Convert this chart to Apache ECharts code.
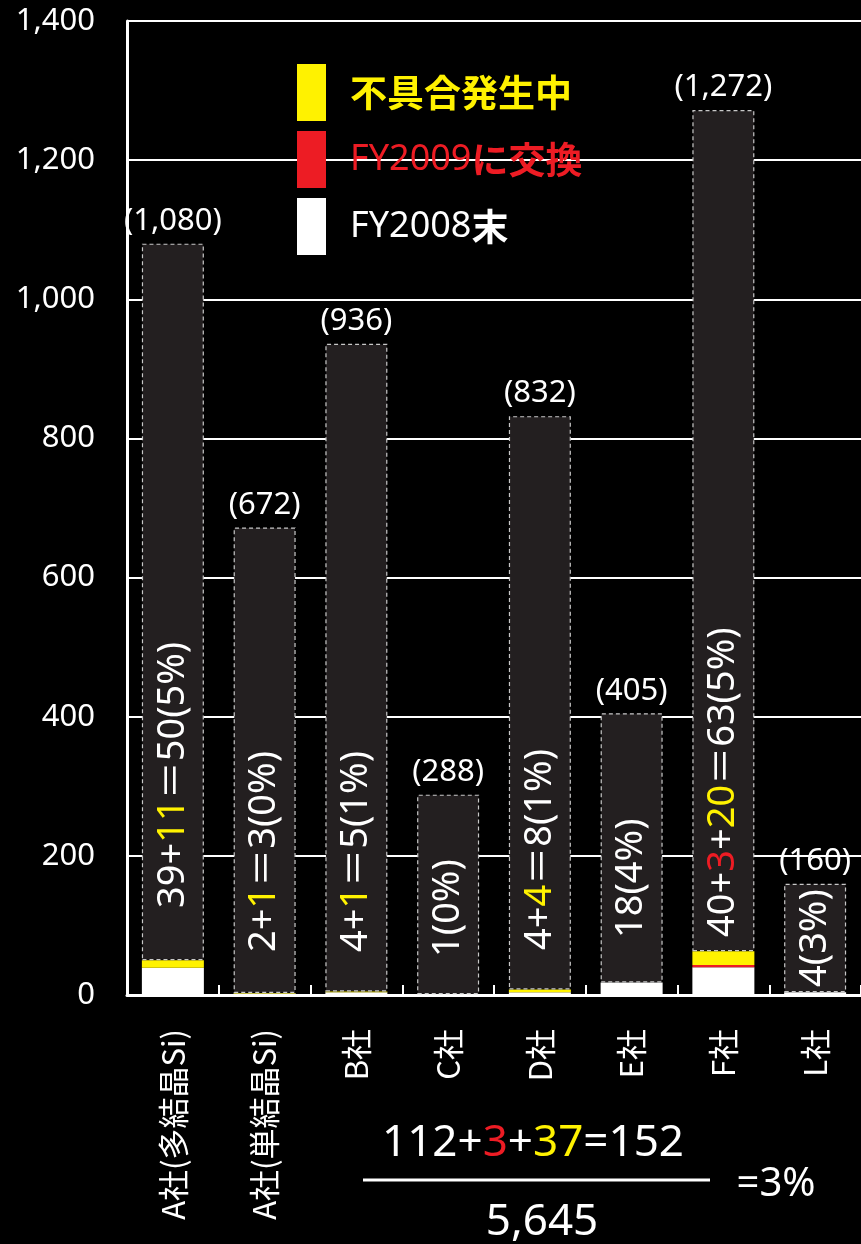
<!DOCTYPE html>
<html>
<head>
<meta charset="utf-8">
<script src="https://cdn.jsdelivr.net/npm/echarts@6/dist/echarts.min.js"></script>
<style>
  html, body { margin: 0; padding: 0; background: #000; }
  #chart { width: 861px; height: 1244px; }
</style>
</head>
<body>
<div id="chart"></div>
<script>
// Module counts per maker
const categories = ['A社(多結晶Si)', 'A社(単結晶Si)', 'B社', 'C社', 'D社', 'E社', 'F社', 'L社'];
const totals     = [1080, 672, 936, 288, 832, 405, 1272, 160];
const endFY2008  = [39, 2, 4, 1, 4, 18, 40, 4];   // FY2008末
const replaced   = [0, 0, 0, 0, 0, 0, 3, 0];      // FY2009に交換
const faulty     = [11, 1, 1, 0, 4, 0, 20, 0];    // 不具合発生中
const yTicks = { min: 0, max: 1400, step: 200 };

// Layout: how far (px) above the axis each in-bar caption starts
const captionLift = [87, 43, 43, 38, 45, 57, 58, 8];

const C_WHITE = '#ffffff', C_RED = '#ed1c24', C_YELLOW = '#fff200', C_BAR = '#231f20';
const LATIN = '"Noto Sans", "Noto Sans CJK JP", sans-serif';
const CJK = '"Noto Sans CJK JP", "Noto Sans", sans-serif';

const fmt = v => v.toLocaleString('en-US');
const issueSum = i => endFY2008[i] + replaced[i] + faulty[i];
const rest = totals.map((t, i) => t - issueSum(i));

const chart = echarts.init(document.getElementById('chart'));

function legendText(name) {
  const color = { '不具合発生中': 'y', 'FY2009に交換': 'r', 'FY2008末': 'w' }[name];
  const m = name.match(/^([A-Za-z0-9]*)(.*)$/);
  let s = '{gap|}';
  if (m[1]) s += '{' + color + 'n|' + m[1] + '}';
  if (m[2]) s += '{' + color + 'b|' + m[2] + '}';
  return s;
}

const legendRich = { gap: { width: 19 } };
[['y', C_YELLOW], ['r', C_RED], ['w', C_WHITE]].forEach(([k, c]) => {
  legendRich[k + 'n'] = { color: c, fontSize: 36, fontFamily: LATIN, fontWeight: 'normal' };
  legendRich[k + 'b'] = { color: c, fontSize: 37, fontFamily: CJK, fontWeight: 'bold' };
});

const option = {
  backgroundColor: '#000',
  animation: false,
  grid: { left: 127, right: 0, top: 21, bottom: 249, containLabel: false, outerBoundsMode: 'none' },
  legend: {
    show: true,
    orient: 'vertical',
    left: 297,
    top: 64,
    padding: 0,
    itemWidth: 29,
    itemHeight: 57,
    itemGap: 10,
    icon: 'rect',
    selectedMode: false,
    data: ['不具合発生中', 'FY2009に交換', 'FY2008末'],
    formatter: legendText,
    textStyle: { rich: legendRich }
  },
  xAxis: {
    type: 'category',
    data: categories,
    axisLine: { show: true, lineStyle: { color: '#fff', width: 3 } },
    axisTick: { show: true, inside: true, length: 10, lineStyle: { color: '#fff', width: 2 } },
    axisLabel: {
      rotate: 90,
      color: '#fff',
      fontSize: 31,
      fontFamily: CJK,
      margin: 34,
      interval: 0
    },
    splitLine: { show: false }
  },
  yAxis: {
    type: 'value',
    min: yTicks.min,
    max: yTicks.max,
    interval: yTicks.step,
    axisLine: { show: true, lineStyle: { color: '#fff', width: 3 } },
    axisTick: { show: false },
    axisLabel: {
      color: '#fff',
      fontSize: 31,
      fontFamily: LATIN,
      margin: 32,
      formatter: v => fmt(v)
    },
    splitLine: { show: true, lineStyle: { color: '#fff', width: 2 } }
  },
  series: [
    {
      name: 'FY2008末', type: 'bar', stack: 'all', barWidth: 62,
      itemStyle: { color: C_WHITE }, data: endFY2008
    },
    {
      name: 'FY2009に交換', type: 'bar', stack: 'all', barWidth: 62,
      itemStyle: { color: C_RED }, data: replaced
    },
    {
      name: '不具合発生中', type: 'bar', stack: 'all', barWidth: 62,
      itemStyle: { color: C_YELLOW }, data: faulty
    },
    {
      name: '累計', type: 'bar', stack: 'all', barWidth: 62,
      itemStyle: { color: C_BAR, borderColor: '#c8c8c8', borderWidth: 1.2, borderType: [4, 3] },
      label: {
        show: true,
        position: 'top',
        distance: 7,
        color: '#fff',
        fontSize: 31,
        fontFamily: LATIN,
        formatter: p => '(' + fmt(totals[p.dataIndex]) + ')'
      },
      data: rest
    }
  ]
};

chart.setOption(option);

// In-bar captions: counts, their sum and the share of the bar total
function caption(i) {
  const parts = [{ v: endFY2008[i], k: 'w' }];
  if (replaced[i] > 0) parts.push({ v: replaced[i], k: 'r' });
  if (faulty[i] > 0) parts.push({ v: faulty[i], k: 'y' });
  const pct = Math.round(issueSum(i) / totals[i] * 100);
  let s = parts.map(p => '{' + p.k + '|' + p.v + '}').join('{w|+}');
  if (parts.length > 1) s += '{w|＝' + issueSum(i) + '}';
  s += '{w|(' + pct + '%)}';
  return s;
}

function richSet(size) {
  return {
    w: { fill: C_WHITE, fontSize: size, fontFamily: LATIN },
    r: { fill: C_RED, fontSize: size, fontFamily: LATIN },
    y: { fill: C_YELLOW, fontSize: size, fontFamily: LATIN }
  };
}

const graphics = [];
const y0 = chart.convertToPixel({ yAxisIndex: 0 }, 0);
categories.forEach((c, i) => {
  const x = chart.convertToPixel({ xAxisIndex: 0 }, c);
  graphics.push({
    type: 'text',
    x: x, y: y0 - captionLift[i],
    rotation: Math.PI / 2,
    z: 100,
    style: { text: caption(i), rich: richSet(38), fill: '#fff', align: 'left', verticalAlign: 'middle' }
  });
});

// Overall ratio written as a fraction under the axis
const sumW = endFY2008.reduce((a, b) => a + b, 0);
const sumR = replaced.reduce((a, b) => a + b, 0);
const sumY = faulty.reduce((a, b) => a + b, 0);
const sumAll = sumW + sumR + sumY;
const grand = totals.reduce((a, b) => a + b, 0);
const overall = Math.round(sumAll / grand * 100);

graphics.push({
  type: 'text', x: 533, y: 1143, z: 100,
  style: {
    text: '{w|' + sumW + '+}{r|' + sumR + '}{w|+}{y|' + sumY + '}{w|=' + sumAll + '}',
    rich: richSet(44), fill: '#fff', align: 'center', verticalAlign: 'middle'
  }
});
graphics.push({
  type: 'line', z: 100,
  shape: { x1: 363, y1: 1180, x2: 710, y2: 1180 },
  style: { stroke: '#fff', lineWidth: 3 }
});
graphics.push({
  type: 'text', x: 542, y: 1222, z: 100,
  style: { text: fmt(grand), fill: '#fff', font: '44px "Noto Sans", sans-serif', align: 'center', verticalAlign: 'middle' }
});
graphics.push({
  type: 'text', x: 776, y: 1185, z: 100,
  style: { text: '=' + overall + '%', fill: '#fff', font: '40px "Noto Sans", sans-serif', align: 'center', verticalAlign: 'middle' }
});

chart.setOption({ graphic: graphics });
</script>
</body>
</html>
